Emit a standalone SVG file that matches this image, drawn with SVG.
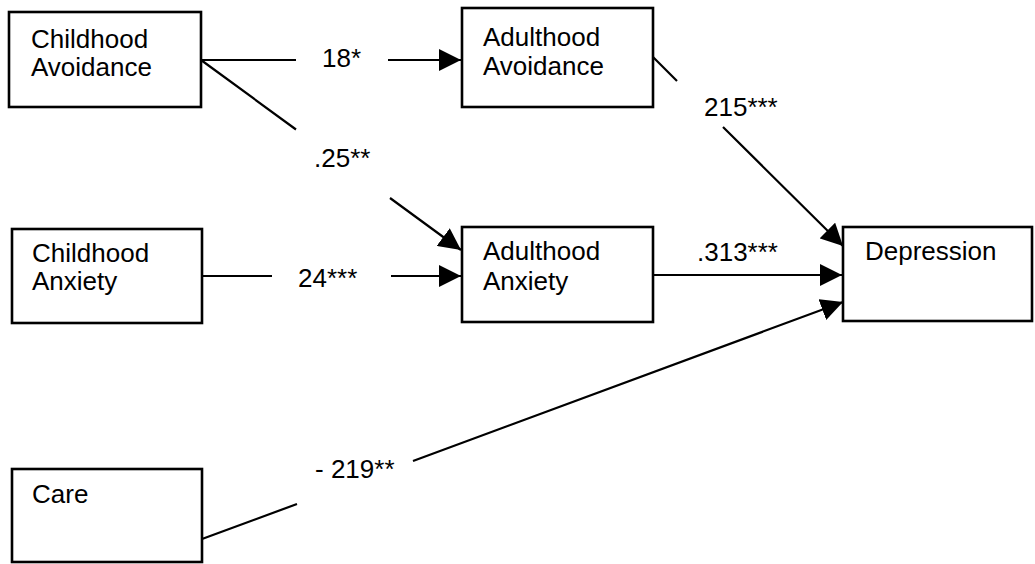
<svg xmlns="http://www.w3.org/2000/svg" width="1035" height="564" viewBox="0 0 1035 564">
  <style>
    .box { fill: #ffffff; stroke: #000000; stroke-width: 2.6; }
    .lbl { font-family: "Liberation Sans", Arial, sans-serif; font-size: 26px; fill: #000000; }
    .edge { fill: none; stroke: #000000; stroke-width: 2.2; marker-end: url(#arrow); }
  </style>
  <defs>
    <marker id="arrow" markerUnits="userSpaceOnUse" markerWidth="24" markerHeight="22" refX="22" refY="11" orient="auto">
      <path d="M0,0 L22,11 L0,22 Z" fill="#000000"/>
    </marker>
  </defs>
  <rect width="1035" height="564" fill="#ffffff"/>

  <!-- path connectors, each broken where its coefficient sits -->
  <g id="connectors">
    <path class="edge" d="M201,60 H296 M388,60 H461"/>
    <path class="edge" d="M201,60 L296,129.5 M390,198 L461,250"/>
    <path class="edge" d="M202,276 H272 M391,276 H461"/>
    <path class="edge" d="M653,57 L677,81 M723,127 L843,246"/>
    <path class="edge" d="M653,275 H842"/>
    <path class="edge" d="M202,539 L297,504 M413,461 L843,302"/>
  </g>

  <g id="coefficients">
    <text class="lbl" x="322" y="67">18*</text>
    <text class="lbl" x="314" y="167">.25**</text>
    <text class="lbl" x="298" y="287">24***</text>
    <text class="lbl" x="704" y="116">215***</text>
    <text class="lbl" x="697" y="261">.313***</text>
    <text class="lbl" x="315" y="478">- 219**</text>
  </g>

  <g id="childhood-avoidance">
    <rect class="box" x="9" y="12" width="192" height="95"/>
    <text class="lbl" x="31" y="48">Childhood</text>
    <text class="lbl" x="31" y="76">Avoidance</text>
  </g>
  <g id="adulthood-avoidance">
    <rect class="box" x="462" y="8" width="191" height="99"/>
    <text class="lbl" x="483" y="46">Adulthood</text>
    <text class="lbl" x="483" y="75">Avoidance</text>
  </g>
  <g id="childhood-anxiety">
    <rect class="box" x="12" y="229" width="190" height="94"/>
    <text class="lbl" x="32" y="262">Childhood</text>
    <text class="lbl" x="32" y="290">Anxiety</text>
  </g>
  <g id="adulthood-anxiety">
    <rect class="box" x="462" y="227" width="191" height="95"/>
    <text class="lbl" x="483" y="260">Adulthood</text>
    <text class="lbl" x="483" y="290">Anxiety</text>
  </g>
  <g id="depression">
    <rect class="box" x="843" y="227" width="189" height="94"/>
    <text class="lbl" x="865" y="260">Depression</text>
  </g>
  <g id="care">
    <rect class="box" x="12" y="469" width="190" height="93"/>
    <text class="lbl" x="32" y="503">Care</text>
  </g>
</svg>
